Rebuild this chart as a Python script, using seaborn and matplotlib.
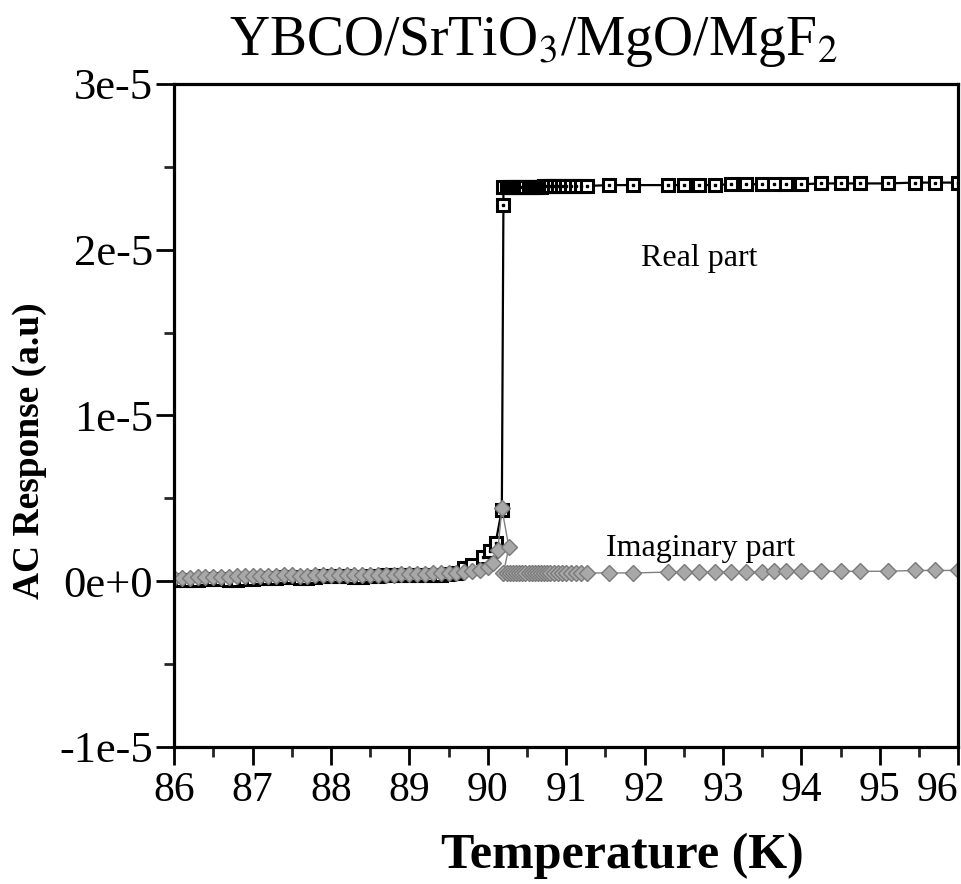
import numpy as np
import matplotlib
matplotlib.use('Agg')
import matplotlib.pyplot as plt
import seaborn as sns
from matplotlib.ticker import MultipleLocator

# temperatures (K) shared by both traces below the transition
temp_low = [86.0, 86.1, 86.2, 86.3, 86.4, 86.5, 86.6, 86.7, 86.8, 86.9,
            87.0, 87.1, 87.2, 87.3, 87.4, 87.5, 87.6, 87.7, 87.8, 87.9,
            88.0, 88.1, 88.2, 88.3, 88.4, 88.5, 88.6, 88.7, 88.8, 88.9,
            89.0, 89.1, 89.2, 89.3, 89.4, 89.5, 89.6]
real_low = [0.05, 0.05, 0.1, 0.1, 0.15, 0.15, 0.15, 0.1, 0.1, 0.15,
            0.15, 0.2, 0.2, 0.2, 0.25, 0.25, 0.2, 0.2, 0.25, 0.3,
            0.3, 0.3, 0.3, 0.25, 0.25, 0.3, 0.3, 0.35, 0.35, 0.35,
            0.35, 0.35, 0.4, 0.4, 0.4, 0.45, 0.5]
imag_low = [0.2, 0.2, 0.2, 0.25, 0.25, 0.25, 0.25, 0.25, 0.3, 0.3,
            0.3, 0.3, 0.3, 0.3, 0.35, 0.35, 0.3, 0.3, 0.35, 0.35,
            0.35, 0.35, 0.4, 0.4, 0.35, 0.4, 0.4, 0.4, 0.4, 0.45,
            0.45, 0.45, 0.45, 0.5, 0.5, 0.5, 0.5]

# transition region
temp_tr_real = [89.7, 89.8, 89.94, 90.03, 90.1, 90.18, 90.2]
real_tr = [0.8, 0.97, 1.45, 1.8, 2.3, 4.3, 22.7]
temp_tr_imag = [89.7, 89.8, 89.9, 90.0, 90.07, 90.13, 90.18, 90.27, 90.2]
imag_tr = [0.55, 0.6, 0.7, 0.85, 1.1, 1.9, 4.4, 2.05, 0.5]

# normal state
temp_high = [90.16, 90.2, 90.24, 90.28, 90.32, 90.36, 90.4, 90.44, 90.48, 90.52,
             90.56, 90.6, 90.64, 90.68, 90.72, 90.76, 90.8, 90.85, 90.9, 90.95,
             91.0, 91.06, 91.12, 91.19, 91.27,
             91.55, 91.85, 92.3, 92.5, 92.7, 92.9, 93.1, 93.3, 93.5, 93.65,
             93.8, 94.0, 94.25, 94.5, 94.75, 95.1, 95.45, 95.7, 96.0]
real_high = [23.8, 23.8, 23.8, 23.8, 23.8, 23.8, 23.8, 23.8, 23.8, 23.8,
             23.8, 23.8, 23.8, 23.8, 23.85, 23.85, 23.85, 23.85, 23.85, 23.85,
             23.85, 23.85, 23.85, 23.85, 23.85,
             23.9, 23.9, 23.9, 23.9, 23.9, 23.9, 23.95, 23.95, 23.95, 23.95,
             23.95, 23.95, 24.0, 24.0, 24.0, 24.0, 24.05, 24.05, 24.05]
imag_high = [0.5, 0.5, 0.5, 0.5, 0.5, 0.5, 0.5, 0.5, 0.5, 0.5,
             0.5, 0.5, 0.5, 0.5, 0.5, 0.5, 0.5, 0.5, 0.5, 0.5,
             0.5, 0.5, 0.5, 0.5, 0.5,
             0.5, 0.5, 0.55, 0.55, 0.55, 0.55, 0.55, 0.55, 0.55, 0.6,
             0.6, 0.6, 0.6, 0.6, 0.6, 0.6, 0.65, 0.65, 0.65]

ytick_vals = [-1e-5, 0, 1e-5, 2e-5, 3e-5]
ytick_labels = ['-1e-5', '0e+0', '1e-5', '2e-5', '3e-5']
xtick_vals = [86, 87, 88, 89, 90, 91, 92, 93, 94, 95, 96]

temp_real = np.array(temp_low + temp_tr_real + temp_high[1:])
resp_real = np.array(real_low + real_tr + real_high[1:]) * 1e-6
temp_imag = np.array(temp_low + temp_tr_imag + temp_high[2:])
resp_imag = np.array(imag_low + imag_tr + imag_high[2:]) * 1e-6

sns.set_theme(style='ticks')
plt.rcParams['font.family'] = ['Liberation Serif', 'DejaVu Serif']
plt.rcParams['mathtext.fontset'] = 'stix'
plt.rcParams['text.color'] = 'black'
plt.rcParams['axes.labelcolor'] = 'black'

fig = plt.figure(figsize=(9.62, 8.84), dpi=100)
ax = fig.add_axes([0.181, 0.155, 0.815, 0.75])

sns.lineplot(x=temp_real, y=resp_real, sort=False, estimator=None, ax=ax,
             color='black', linewidth=1.6, marker='s', markersize=8.5,
             markerfacecolor='white', markeredgecolor='black', markeredgewidth=2.2)
ax.plot(temp_real, resp_real, linestyle='none', marker='s', markersize=1.6,
        color='black')
sns.lineplot(x=temp_imag, y=resp_imag, sort=False, estimator=None, ax=ax,
             color='#808080', linewidth=1.0, marker='D', markersize=8,
             markerfacecolor='#a8a8a8', markeredgecolor='#7a7a7a', markeredgewidth=1.0)

ax.set_xlim(86, 96)
ax.set_ylim(-1e-5, 3e-5)
ax.set_xticks(xtick_vals)
ax.set_xticklabels([str(v) for v in xtick_vals])
ax.set_yticks(ytick_vals)
ax.set_yticklabels(ytick_labels)
ax.xaxis.set_minor_locator(MultipleLocator(0.5))
ax.yaxis.set_minor_locator(MultipleLocator(0.5e-5))
ax.tick_params(which='major', direction='out', length=13, width=2,
               colors='black')
ax.tick_params(axis='x', which='major', labelsize=30, pad=5)
ax.tick_params(axis='y', which='major', labelsize=32, pad=2)
ax.tick_params(which='minor', direction='out', length=7, width=2)
ax.tick_params(top=False, right=False, which='both')
ax.get_xticklabels()[-1].set_horizontalalignment('right')
for sp in ax.spines.values():
    sp.set_linewidth(2.3)
    sp.set_color('black')

ax.text(92.7, 1.95e-5, 'Real part', fontsize=23, ha='center', va='center')
ax.text(92.72, 0.2e-5, 'Imaginary part', fontsize=23, ha='center', va='center')

fig.text(0.554, 0.953, 'YBCO/SrTiO$_3$/MgO/MgF$_2$', fontsize=40,
         ha='center', va='center')
fig.text(0.647, 0.032, 'Temperature (K)', fontsize=36, fontweight='bold',
         ha='center', va='center')
fig.text(0.031, 0.49, 'AC Response (a.u)', fontsize=27, fontweight='bold',
         ha='center', va='center', rotation=90)

fig.savefig('out.png', dpi=100)
